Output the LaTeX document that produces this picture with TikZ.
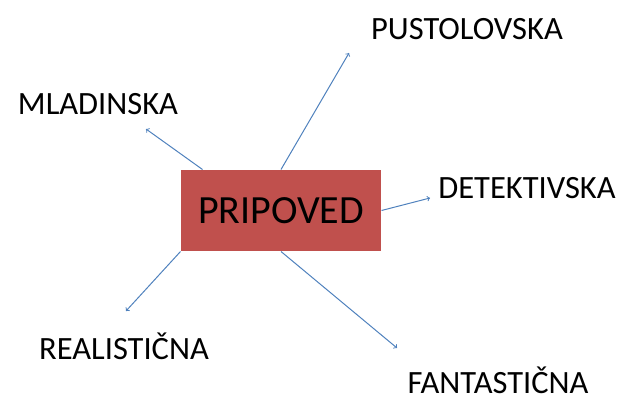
\documentclass[tikz,border=0pt]{standalone}
\usepackage{fontspec}
\setmainfont{Carlito}
\usepackage{xcolor}
\definecolor{boxred}{HTML}{C0504D}
\definecolor{linkblue}{HTML}{4F81BD}

\begin{document}
\begin{tikzpicture}[x=1pt, y=-1pt, -> , >= to, line width=1pt,
				kind/.style={anchor=base, inner sep=0pt, font=\fontsize{32.5}{40}\selectfont},
				link/.style={draw=linkblue}]
			\useasboundingbox (0, 0) rectangle (618, 402);

			\node (box) at (281, 210.5) [fill=boxred, minimum width=200pt,
				minimum height=81pt, inner sep=0pt,
				font=\fontsize{40}{48}\selectfont] {PRIPOVED};

			\node (pust) at (467, 39) [kind] {PUSTOLOVSKA};
			\node (mlad) at (98, 114) [kind] {MLADINSKA};
			\node (det) at (527, 198) [kind] {DETEKTIVSKA};
			\node (real) at (124, 359) [kind] {REALISTIČNA};
			\node (fant) at (498, 393) [kind] {FANTASTIČNA};

			% arrow tips
			\coordinate (tpust) at (349, 53);
			\coordinate (tmlad) at (146, 129);
			\coordinate (tdet) at (430, 198);
			\coordinate (treal) at (126, 311);
			\coordinate (tfant) at (397, 348);

			\coordinate (smlad) at ([xshift=22pt]box.north west);

			\foreach \s/\t in {box.north/tpust, smlad/tmlad, box.east/tdet,
					box.south west/treal, box.south/tfant} {
					\draw[link] (\s) -- (\t);
				}
		\end{tikzpicture}
\end{document}
